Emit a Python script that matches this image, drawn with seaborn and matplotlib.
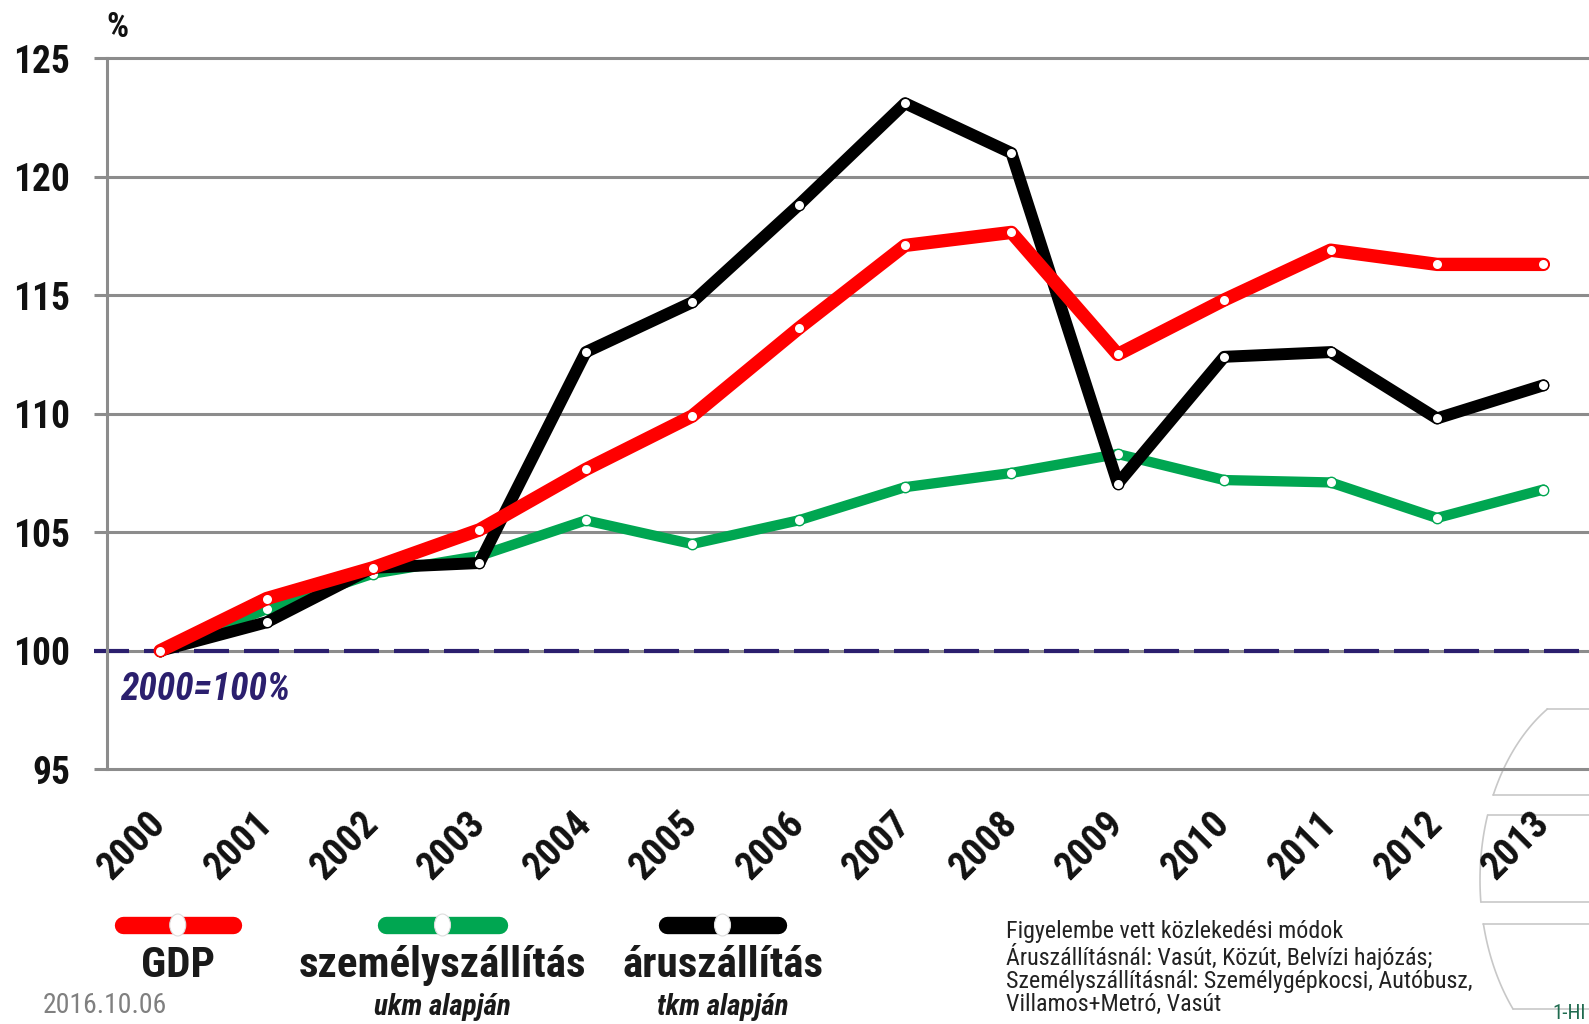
import numpy as np
import matplotlib
matplotlib.use('Agg')
import matplotlib.pyplot as plt
import seaborn as sns
from matplotlib import font_manager
from matplotlib.lines import Line2D
from matplotlib.patches import Ellipse

# adatok (2000 = 100%)
years = [str(y) for y in range(2000, 2014)]
gdp = [100.0, 102.2, 103.5, 105.1, 107.65, 109.9, 113.6, 117.1, 117.65, 112.5, 114.8, 116.9, 116.3, 116.3]
szemely = [100.0, 101.75, 103.25, 104.0, 105.5, 104.5, 105.5, 106.9, 107.5, 108.3, 107.2, 107.1, 105.6, 106.8]
aru = [100.0, 101.2, 103.5, 103.7, 112.6, 114.7, 118.8, 123.1, 121.0, 107.05, 112.4, 112.6, 109.8, 111.2]
yticks = [95, 100, 105, 110, 115, 120, 125]
legend_labels = ['GDP', 'személyszállítás', 'áruszállítás']
legend_sub = ['', 'ukm alapján', 'tkm alapján']
note_lines = ['Figyelembe vett közlekedési módok',
              'Áruszállításnál: Vasút, Közút, Belvízi hajózás;',
              'Személyszállításnál: Személygépkocsi, Autóbusz,',
              'Villamos+Metró, Vasút']

RED = '#ff0000'
GREEN = '#00a651'
BLACK = '#000000'
NAVY = '#2b1f6e'
GRID = '#8c8c8c'


def pick_font(*names):
    for n in names:
        try:
            font_manager.findfont(font_manager.FontProperties(family=n), fallback_to_default=False)
            return n
        except ValueError:
            pass
    return 'DejaVu Sans'


sns.set_theme(style='white')
COND = pick_font('Liberation Sans Narrow', 'Roboto Condensed', 'Open Sans Condensed', 'DejaVu Sans')
plt.rcParams['font.family'] = [COND, 'DejaVu Sans']

W, H = 1589, 1024
fig = plt.figure(figsize=(W / 100, H / 100), dpi=100)
fig.patch.set_facecolor('white')

# háttér logó (gömb sávok)
deco = fig.add_axes([0, 0, 1, 1], zorder=0)
deco.set_xlim(0, W)
deco.set_ylim(H, 0)
deco.axis('off')
cx, cy, ea, eb = 1620, 880, 140, 200
for y0, y1 in [(709, 795), (815, 902), (924, 1009)]:
    ys = np.linspace(y0, y1, 60)
    xs = cx - ea * np.sqrt(np.clip(1 - ((ys - cy) / eb) ** 2, 0, 1))
    deco.plot(xs, ys, color='#c8c8c8', lw=1.2)
    deco.plot([xs[0], W], [y0, y0], color='#c8c8c8', lw=1.2)
    deco.plot([xs[-1], W], [y1, y1], color='#c8c8c8', lw=1.2)

left = 107 / W
bottom = 1 - 769.2 / H
top = 1 - 58.2 / H
ax = fig.add_axes([left, bottom, 1 - left, top - bottom], zorder=1)
ax.set_facecolor('none')

x = np.arange(len(years))
for vals, col, lw in [(szemely, GREEN, 7.4), (aru, BLACK, 8.6), (gdp, RED, 9.6)]:
    sns.lineplot(x=x, y=vals, ax=ax, color=col, linewidth=lw, marker='o',
                 markersize=7.5, markerfacecolor='white', markeredgecolor=col,
                 markeredgewidth=1.0, solid_joinstyle='round', solid_capstyle='round',
                 zorder=3)

ax.axhline(100, xmin=-13 / (W * (1 - left)), xmax=1, color=NAVY, lw=3,
           dashes=(8.4, 3.6), clip_on=False, zorder=2)
ax.text(-0.378, 97.9, '2000=100%', color=NAVY, fontsize=27, fontweight='bold',
        fontstyle='italic', va='baseline', ha='left')

ax.set_xlim(-0.5, -0.5 + (W - 107) / 106.4)
ax.set_ylim(95, 125)
ax.set_yticks(yticks)
ax.set_yticklabels([str(v) for v in yticks], fontsize=27, fontweight='bold', color='#111111')
ax.set_xticks(x)
ax.set_xticklabels(years, rotation=45, ha='right', va='center', rotation_mode='anchor',
                   fontsize=28, fontweight='bold', color='#111111')
ax.set_xticks(np.arange(-0.5, 13, 1), minor=True)
ax.tick_params(axis='x', which='major', length=0, pad=35)
ax.tick_params(axis='x', which='minor', length=8.6, width=2.2, color=GRID, direction='out')
ax.tick_params(axis='y', length=9.4, width=2.2, color=GRID, pad=17, left=True)
ax.grid(axis='y', color=GRID, lw=2.2)
ax.grid(axis='x', visible=False)
for gl in ax.get_ygridlines():
    gl.set_clip_on(False)
for s in ['top', 'right', 'bottom']:
    ax.spines[s].set_visible(False)
ax.spines['left'].set_color(GRID)
ax.spines['left'].set_linewidth(2.2)
ax.set_axisbelow(True)

fig.text(106 / W, 1 - 37 / H, '%', fontsize=25, fontweight='bold', color='#111111', va='baseline')

# jelmagyarázat
leg_x = [(114.5, 241), (378, 507), (659, 786)]
for (x0, x1), col, lab, sub in zip(leg_x, [RED, GREEN, BLACK], legend_labels, legend_sub):
    y = 1 - 925 / H
    xc = (x0 + x1) / 2 / W
    fig.add_artist(Line2D([(x0 + 8) / W, (x1 - 8) / W], [y, y], transform=fig.transFigure,
                          color=col, lw=12.5, solid_capstyle='round', zorder=3))
    fig.add_artist(Ellipse((xc, y), 16 / W, 22 / H, transform=fig.transFigure,
                           facecolor='white', edgecolor='#dddddd', lw=0.8, zorder=4))
    fig.text(xc, 1 - 977 / H, lab, ha='center', va='baseline', fontsize=31,
             fontweight='bold', color='#1a1a1a')
    if sub:
        fig.text(xc, 1 - 1015 / H, sub, ha='center', va='baseline', fontsize=21,
                 fontweight='bold', fontstyle='italic', color='#1a1a1a')

fig.text(1006 / W, 1 - 920 / H, '\n'.join(note_lines), ha='left', va='top', fontsize=17.3,
         color='#222222', linespacing=1.0)
fig.text(43 / W, 1 - 992 / H, '2016.10.06', ha='left', va='top', fontsize=20, color='#808080')
fig.text(1552 / W, 1 - 1019 / H, '1-HI', ha='left', va='baseline', fontsize=15, color='#1f6b4f')

fig.savefig('out.png', dpi=100)
plt.close(fig)
